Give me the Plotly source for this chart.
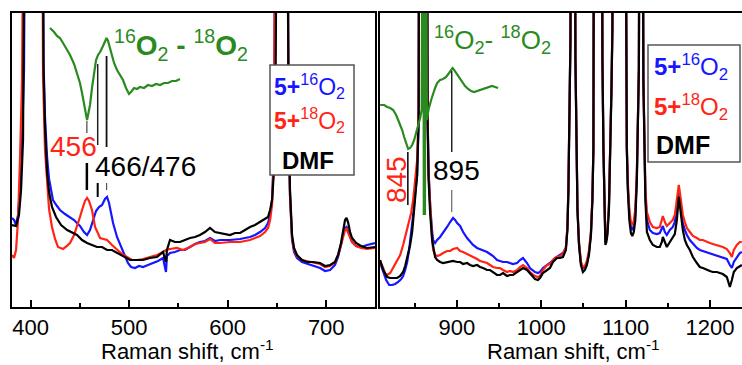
import plotly.graph_objects as go

# ---------------- LEFT PANEL (380-750 cm-1) ----------------
lx_blue = [381.0, 383.1, 385.1, 387.1, 389.1, 391.2, 393.2, 395.2, 403.4, 411.5, 413.0, 414.5, 416.6, 418.6, 420.6,
           422.6, 426.7, 429.7, 434.8, 439.9, 444.0, 447.0, 450.0, 454.1, 457.2, 460.2, 463.3, 466.3, 469.3, 472.4,
           475.4, 477.5, 479.5, 481.5, 483.6, 487.6, 491.7, 495.7, 498.7, 501.8, 505.9, 509.9, 514.0, 519.1, 524.1,
           529.2, 534.3, 537.3, 538.3, 541.4, 546.4, 551.5, 556.6, 561.7, 566.8, 571.8, 576.9, 582.0, 587.1, 592.2,
           602.3, 612.5, 622.6, 627.7, 632.8, 637.9, 640.9, 643.0, 645.0, 647.0, 648.0, 649.0, 655.2, 660.2, 661.7,
           663.2, 665.3, 667.3, 670.3, 675.4, 683.5, 693.7, 698.8, 703.9, 708.9, 712.0, 715.0, 717.1, 719.1, 720.6,
           722.1, 724.2, 726.2, 730.3, 735.3, 741.4, 749.5]
l_blue = [89, 87, 82, 92, 117, 167, 237, 500, 2000, 600, 245, 190, 150, 128, 115,
          107, 101, 97, 93, 90, 87, 84, 81, 75, 72, 77, 87, 96, 100, 102,
          108, 110, 104, 95, 84, 70, 60, 51, 44, 40, 39, 41, 40, 42, 44,
          46, 49, 35, 51, 54, 55, 57, 57, 60, 63, 65, 66, 69, 66, 67,
          67, 68, 70, 72, 75, 79, 84, 92, 107, 157, 227, 500, 2000, 500, 202,
          112, 67, 55, 49, 45, 42, 39, 36, 37, 42, 50, 62, 73, 79, 80,
          76, 70, 65, 61, 60, 62, 64]

lx_red = [381.0, 383.1, 385.1, 387.1, 389.1, 391.2, 393.2, 403.4, 411.0, 412.5, 414.5, 416.6, 418.6, 421.6, 424.7,
          427.7, 432.8, 436.8, 439.9, 444.0, 447.0, 450.0, 452.1, 455.1, 457.2, 459.2, 462.2, 465.3, 470.4, 477.5,
          482.5, 487.6, 492.7, 497.8, 502.8, 507.9, 514.0, 521.1, 528.2, 534.3, 537.3, 541.4, 548.5, 554.6, 561.7,
          566.8, 571.8, 576.9, 582.0, 587.1, 592.2, 602.3, 612.5, 622.6, 627.7, 632.8, 637.9, 640.9, 643.0, 645.0,
          647.0, 648.0, 649.0, 655.2, 660.2, 661.7, 663.2, 665.3, 667.3, 670.3, 675.4, 683.5, 693.7, 698.8, 703.9,
          708.9, 712.0, 715.0, 717.1, 719.1, 720.6, 722.1, 724.2, 726.2, 730.3, 735.3, 741.4, 749.5]
l_red = [52, 49, 57, 87, 147, 227, 500, 2000, 600, 230, 157, 120, 98, 80, 68,
         60, 58, 61, 64, 72, 80, 90, 97, 106, 109, 106, 97, 80, 69, 67,
         62, 57, 53, 50, 47, 47, 48, 50, 52, 55, 57, 58, 59, 57, 60,
         63, 64, 65, 68, 64, 64, 65, 65, 67, 69, 71, 75, 79, 87, 102,
         157, 227, 500, 2000, 500, 197, 112, 69, 57, 51, 47, 45, 43, 40, 41,
         45, 52, 62, 71, 77, 78, 74, 69, 65, 61, 59, 58, 59]

lx_black = [381.0, 385.1, 388.1, 390.2, 392.2, 394.2, 396.2, 403.4, 411.5, 413.0, 414.5, 416.6, 418.6, 421.6, 425.7,
            430.8, 437.0, 444.0, 447.0, 452.1, 457.2, 462.2, 467.3, 472.4, 477.5, 482.5, 487.6, 493.7, 500.8, 507.9,
            514.0, 521.1, 528.2, 534.3, 537.3, 538.3, 541.4, 546.4, 551.5, 556.6, 561.7, 566.8, 571.8, 576.9, 582.0,
            587.1, 592.2, 597.3, 602.3, 607.4, 612.5, 617.6, 622.6, 627.7, 632.8, 637.9, 640.9, 643.0, 645.0, 647.0,
            648.5, 650.1, 655.2, 660.2, 661.7, 663.2, 665.3, 667.3, 670.3, 675.4, 680.5, 686.6, 693.7, 698.8, 703.9,
            708.9, 712.0, 715.0, 717.1, 719.1, 720.6, 722.1, 724.2, 726.2, 730.3, 735.3, 741.4, 749.5]
l_black = [82, 81, 92, 117, 167, 247, 500, 2000, 600, 240, 180, 135, 115, 100, 90,
           82, 77, 73, 72, 67, 64, 62, 60, 60, 57, 57, 54, 51, 47, 47,
           47, 49, 50, 55, 45, 57, 67, 65, 65, 67, 69, 70, 72, 75, 79,
           75, 74, 73, 72, 74, 74, 77, 80, 82, 85, 88, 90, 97, 107, 137,
           207, 500, 2000, 500, 207, 117, 72, 59, 52, 47, 45, 45, 44, 41, 42,
           45, 52, 64, 75, 87, 89, 85, 75, 69, 64, 61, 59, 60]

lx_diff = [419.6, 423.7, 426.7, 429.7, 432.8, 435.8, 439.9, 444.0, 447.0, 450.0, 452.1, 454.1, 456.1, 457.2, 458.2,
           460.2, 462.2, 464.3, 466.3, 468.3, 470.4, 473.4, 475.4, 477.0, 478.5, 480.5, 482.5, 484.6, 487.6, 490.7,
           493.7, 496.7, 499.8, 501.8, 504.9, 507.9, 510.9, 515.0, 519.1, 523.1, 527.2, 531.3, 535.3, 539.4, 543.4,
           547.5, 551.5]
l_diff = [279, 275, 271, 269, 264, 259, 252, 243, 234, 224, 214, 202, 189, 187, 192,
          202, 219, 235, 247, 252, 255, 261, 266, 269, 266, 259, 251, 244, 237, 232,
          227, 219, 213, 215, 219, 218, 220, 219, 222, 221, 223, 222, 224, 224, 226,
          226, 228]

# ---------------- RIGHT PANEL (809-1238 cm-1) ----------------
rx_blue = [809.2, 812.8, 816.3, 819.9, 823.4, 827.0, 830.5, 834.1, 836.4, 838.8, 841.2, 843.5, 845.9, 848.3, 850.7,
           853.0, 854.8, 856.0, 857.2, 860.7, 864.3, 865.4, 866.6, 868.4, 870.8, 872.0, 874.3, 876.7, 880.2, 883.8,
           888.5, 892.1, 894.4, 895.6, 898.0, 900.4, 903.9, 907.5, 912.2, 915.7, 919.3, 924.0, 927.6, 931.1, 935.9,
           939.4, 943.0, 947.7, 951.2, 954.8, 959.5, 963.1, 966.6, 971.4, 974.9, 978.5, 983.2, 986.7, 990.3, 992.7,
           996.2, 998.6, 1002.1, 1006.9, 1010.4, 1016.3, 1022.2, 1025.8, 1029.3, 1031.1, 1032.3, 1033.5, 1034.7, 1035.8, 1037.6,
           1039.4, 1040.6, 1041.8, 1043.0, 1044.8, 1047.1, 1049.5, 1051.8, 1054.2, 1056.6, 1059.0, 1060.7, 1061.9, 1063.1, 1064.3,
           1065.5, 1068.4, 1071.4, 1072.6, 1073.8, 1074.9, 1076.1, 1077.3, 1078.5, 1080.3, 1082.1, 1083.3, 1084.4, 1085.6, 1092.1,
           1099.2, 1100.4, 1101.5, 1102.7, 1104.5, 1106.3, 1108.0, 1109.8, 1111.6, 1113.4, 1114.6, 1115.8, 1117.0, 1118.2, 1119.9,
           1121.1, 1122.3, 1123.5, 1125.3, 1128.8, 1132.4, 1137.1, 1140.6, 1143.0, 1144.2, 1146.6, 1148.9, 1152.5, 1156.0, 1158.4,
           1160.8, 1162.0, 1163.1, 1164.3, 1166.7, 1167.9, 1170.3, 1172.7, 1176.2, 1179.8, 1184.5, 1188.0, 1191.6, 1196.3, 1199.9,
           1203.4, 1208.2, 1211.7, 1215.3, 1220.0, 1223.6, 1226.0, 1228.3, 1231.9, 1235.4, 1237.8]
r_blue = [44, 35, 27, 22, 22, 23, 25, 28, 31, 37, 45, 57, 72, 92, 114,
          132, 187, 257, 600, 3000, 600, 192, 137, 102, 75, 67, 64, 67, 70, 74,
          80, 85, 88, 89, 87, 84, 81, 75, 69, 65, 62, 59, 58, 57, 55,
          53, 51, 47, 46, 45, 45, 44, 43, 44, 47, 49, 44, 39, 36, 35,
          34, 35, 39, 42, 44, 49, 52, 54, 59, 79, 119, 189, 268, 600, 3000,
          600, 248, 158, 98, 64, 44, 39, 40, 44, 54, 74, 108, 158, 218, 278,
          600, 3000, 600, 248, 158, 90, 65, 68, 75, 100, 158, 218, 278, 600, 3000,
          600, 228, 160, 121, 92, 80, 77, 81, 93, 131, 180, 238, 600, 3000, 600,
          230, 165, 112, 87, 77, 74, 73, 74, 79, 81, 75, 72, 77, 80, 85,
          102, 112, 115, 109, 92, 84, 77, 72, 67, 63, 59, 57, 56, 55, 54,
          53, 52, 51, 50, 48, 42, 39, 45, 50, 54, 55]

rx_red = [809.2, 812.8, 815.2, 817.5, 821.1, 824.6, 829.3, 832.9, 836.4, 838.8, 842.4, 845.9, 848.3, 850.7, 853.0,
          854.8, 856.0, 857.2, 860.7, 864.3, 865.4, 866.6, 868.4, 870.8, 872.0, 874.3, 876.7, 880.2, 883.8, 888.5,
          892.1, 895.6, 900.4, 903.9, 907.5, 912.2, 915.7, 919.3, 924.0, 927.6, 931.1, 935.9, 939.4, 943.0, 947.7,
          951.2, 954.8, 959.5, 963.1, 966.6, 971.4, 974.9, 978.5, 983.2, 986.7, 990.3, 992.7, 996.2, 998.6, 1002.1,
          1006.9, 1010.4, 1016.3, 1022.2, 1025.8, 1029.3, 1031.1, 1032.3, 1033.5, 1034.7, 1035.8, 1037.6, 1039.4, 1040.6, 1041.8,
          1043.0, 1044.8, 1047.1, 1049.5, 1051.8, 1054.2, 1056.6, 1059.0, 1060.7, 1061.9, 1063.1, 1064.3, 1065.5, 1068.4, 1071.4,
          1072.6, 1073.8, 1074.9, 1076.1, 1077.3, 1078.5, 1080.3, 1082.1, 1083.3, 1084.4, 1085.6, 1092.1, 1099.2, 1100.4, 1101.5,
          1102.7, 1104.5, 1106.3, 1108.0, 1109.8, 1111.6, 1113.4, 1114.6, 1115.8, 1117.0, 1118.2, 1119.9, 1121.1, 1122.3, 1123.5,
          1125.3, 1128.8, 1132.4, 1137.1, 1140.6, 1143.0, 1144.2, 1146.6, 1148.9, 1152.5, 1156.0, 1158.4, 1160.8, 1162.0, 1163.1,
          1164.3, 1166.7, 1167.9, 1170.3, 1172.7, 1176.2, 1179.8, 1184.5, 1188.0, 1191.6, 1196.3, 1199.9, 1203.4, 1208.2, 1211.7,
          1215.3, 1220.0, 1223.6, 1226.0, 1228.3, 1231.9, 1235.4, 1237.8]
r_red = [45, 39, 33, 32, 34, 39, 47, 52, 62, 70, 82, 94, 107, 127, 147,
         197, 262, 600, 3000, 600, 192, 132, 97, 67, 57, 52, 51, 52, 54, 56,
         56, 58, 59, 56, 55, 53, 52, 50, 48, 46, 45, 44, 42, 40, 39,
         39, 37, 35, 36, 35, 37, 40, 42, 39, 35, 32, 31, 30, 31, 37,
         42, 43, 49, 51, 53, 60, 80, 120, 190, 270, 600, 3000, 600, 250, 160,
         100, 66, 45, 40, 41, 46, 56, 76, 110, 160, 220, 280, 600, 3000, 600,
         250, 160, 92, 67, 70, 77, 102, 160, 220, 280, 600, 3000, 600, 230, 162,
         125, 97, 85, 82, 86, 98, 135, 182, 240, 600, 3000, 600, 232, 170, 117,
         95, 85, 80, 79, 80, 87, 91, 85, 81, 84, 87, 92, 107, 117, 122,
         115, 99, 92, 85, 79, 75, 71, 69, 67, 67, 65, 64, 63, 62, 61,
         60, 58, 54, 50, 57, 62, 65, 65]

rx_black = [809.2, 812.8, 817.5, 821.1, 824.6, 829.3, 832.9, 836.4, 838.8, 841.2, 842.4, 844.7, 847.1, 848.9, 850.7,
            853.0, 854.8, 856.0, 857.2, 860.7, 864.3, 865.4, 866.6, 868.4, 870.8, 874.3, 876.7, 880.2, 883.8, 888.5,
            892.1, 895.6, 900.4, 903.9, 907.5, 912.2, 915.7, 919.3, 924.0, 927.6, 931.1, 935.9, 939.4, 943.0, 947.7,
            951.2, 954.8, 959.5, 963.1, 966.6, 971.4, 974.9, 978.5, 983.2, 986.7, 990.3, 992.7, 996.2, 998.6, 1002.1,
            1006.9, 1010.4, 1014.0, 1018.7, 1022.2, 1025.8, 1029.3, 1031.1, 1032.3, 1033.5, 1034.7, 1035.8, 1037.6, 1039.4, 1040.6,
            1041.8, 1043.0, 1044.8, 1047.1, 1049.5, 1051.8, 1054.2, 1056.6, 1059.0, 1060.7, 1061.9, 1063.1, 1064.3, 1065.5, 1068.4,
            1071.4, 1072.6, 1073.8, 1074.9, 1076.1, 1077.3, 1078.5, 1080.3, 1082.1, 1083.3, 1084.4, 1085.6, 1092.1, 1099.2, 1100.4,
            1101.5, 1102.7, 1104.5, 1106.3, 1108.0, 1109.8, 1111.6, 1113.4, 1114.6, 1115.8, 1117.0, 1118.2, 1119.9, 1121.1, 1122.3,
            1123.5, 1125.3, 1128.8, 1132.4, 1137.1, 1140.6, 1143.0, 1144.2, 1146.6, 1148.9, 1152.5, 1156.0, 1158.4, 1160.8, 1162.0,
            1163.1, 1164.3, 1166.7, 1167.9, 1170.3, 1172.7, 1176.2, 1179.8, 1184.5, 1188.0, 1191.6, 1196.3, 1199.9, 1203.4, 1208.2,
            1211.7, 1215.3, 1220.0, 1223.6, 1226.0, 1228.3, 1231.9, 1235.4, 1237.8]
r_black = [47, 37, 30, 29, 29, 29, 31, 35, 41, 49, 53, 62, 75, 95, 114,
           132, 187, 257, 600, 3000, 600, 187, 127, 94, 67, 50, 47, 45, 44, 45,
           45, 46, 45, 45, 43, 44, 42, 41, 42, 40, 39, 37, 37, 35, 32,
           32, 34, 31, 32, 32, 35, 37, 39, 37, 34, 30, 28, 27, 29, 34,
           37, 39, 45, 49, 49, 50, 57, 77, 117, 187, 267, 600, 3000, 600, 247,
           157, 97, 62, 42, 35, 37, 42, 52, 72, 107, 157, 217, 277, 600, 3000,
           600, 247, 157, 87, 62, 65, 72, 97, 157, 217, 277, 600, 3000, 600, 227,
           157, 117, 87, 74, 71, 75, 87, 127, 177, 237, 600, 3000, 600, 227, 157,
           107, 75, 67, 62, 60, 60, 65, 70, 64, 60, 65, 70, 73, 87, 102,
           110, 102, 85, 77, 67, 62, 57, 50, 44, 40, 39, 37, 36, 35, 35,
           34, 33, 30, 20, 27, 35, 39, 41, 42]

rx_diff = [809.2, 814.0, 817.5, 821.1, 824.6, 828.1, 830.5, 832.9, 835.3, 837.6, 840.0, 842.4, 844.7, 847.1, 849.5,
           851.8, 854.2, 856.6, 858.4, 860.2, 860.9, 861.6, 862.3, 863.0, 864.6, 866.4, 869.6, 872.0, 874.3, 876.7,
           880.2, 883.8, 887.3, 890.9, 893.2, 895.0, 896.8, 899.2, 902.8, 906.3, 909.8, 913.4, 916.9, 920.5, 924.0,
           927.6, 931.1, 934.7, 938.2, 941.8, 945.4, 948.9]
r_diff = [202, 202, 200, 199, 197, 192, 187, 182, 177, 170, 163, 158, 159, 162, 167,
          174, 183, 189, 197, 600, 92, 600, 92, 600, 187, 197, 207, 214, 219, 224,
          227, 228, 230, 234, 237, 239, 237, 234, 229, 225, 221, 218, 216, 215, 216,
          217, 218, 219, 220, 221, 220, 219]

# band markers (cm-1) and their labels
left_bands = [457, 468, 477]
right_bands = [842, 894]
x_ticks_left = [400, 500, 600, 700]
x_ticks_right = [900, 1000, 1100, 1200]

BLUE = "#1616ff"
RED = "#ff2414"
BLACK = "#000000"
GREEN = "#2b8a1f"
FONT = "Liberation Sans, Arial, sans-serif"

fig = go.Figure()


def add(x, y, color, xa, ya):
    fig.add_trace(go.Scatter(x=x, y=y, mode="lines", line=dict(color=color, width=2.2),
                             xaxis=xa, yaxis=ya, showlegend=False, hoverinfo="skip"))


add(lx_blue, l_blue, BLUE, "x", "y")
add(lx_red, l_red, RED, "x", "y")
add(lx_black, l_black, BLACK, "x", "y")
add(lx_diff, l_diff, GREEN, "x", "y")
add(rx_blue, r_blue, BLUE, "x2", "y2")
add(rx_red, r_red, RED, "x2", "y2")
add(rx_black, r_black, BLACK, "x2", "y2")
add(rx_diff, r_diff, GREEN, "x2", "y2")

W, H = 742, 365
ydom = [(H - 307) / H, (H - 13) / H]

axis_common = dict(showline=True, linecolor="black", linewidth=2, mirror=True,
                   ticks="inside", ticklen=7, tickwidth=1.5, tickcolor="black",
                   showgrid=False, zeroline=False,
                   tickfont=dict(family=FONT, size=22, color="black"),
                   minor=dict(ticks="inside", ticklen=4, tickwidth=1.5, tickcolor="black", dtick=50, tick0=0,
                              showgrid=False))
yaxis_common = dict(showline=True, linecolor="black", linewidth=2, showticklabels=False,
                    ticks="", showgrid=False, zeroline=False, range=[0, 294], domain=ydom)

fig.update_layout(
    width=W, height=H, margin=dict(l=0, r=0, t=0, b=0),
    template="none", paper_bgcolor="white", plot_bgcolor="white",
    xaxis=dict(domain=[12 / W, 375 / W], range=[381, 749.5], anchor="y",
               tickvals=x_ticks_left, **axis_common),
    yaxis=dict(anchor="x", mirror=True, **yaxis_common),
    xaxis2=dict(domain=[380 / W, 1.0], range=[809, 1238], anchor="y2",
                tickvals=x_ticks_right, **axis_common),
    yaxis2=dict(anchor="x2", mirror=False, **yaxis_common),
)

# marker lines
def vline(xa, ya, x, y0, y1, color="black", width=1.5):
    fig.add_shape(type="line", xref=xa, yref=ya, x0=x, x1=x, y0=y0, y1=y1,
                  line=dict(color=color, width=width))


vline("x", "y", left_bands[0], 174, 186, "#444444", 1.2)
vline("x", "y", left_bands[0], 117, 144, "black", 2.5)
vline("x", "y", left_bands[1], 162, 243, "#222222", 1.5)
vline("x", "y", left_bands[1], 110, 124, "black", 2)
vline("x", "y", left_bands[2], 160, 251, "#111111", 1.8)
vline("x", "y", left_bands[2], 117, 124, "#555555", 1.2)
vline("x2", "y2", right_bands[0], 102, 155, "black", 1.5)
vline("x2", "y2", right_bands[1], 155, 236, "#222222", 1.5)
vline("x2", "y2", right_bands[1], 95, 117, "#666666", 1.2)

# text labels
def label(xa, ya, x, y, text, color, size=28, angle=0):
    fig.add_annotation(xref=xa, yref=ya, x=x, y=y, text=text, showarrow=False, textangle=angle,
                       font=dict(family=FONT, size=size, color=color), xanchor="center", yanchor="middle")


label("x", "y", 443, 161, "456", RED)
label("x", "y", 517, 141, "466/476", BLACK)
label("x", "y", 553, 262, "<sup>16</sup><b>O</b><sub>2</sub><b> - </b><sup>18</sup><b>O</b><sub>2</sub>", GREEN, 28)
label("x2", "y2", 828, 127, "845", RED, 28, -90)
label("x2", "y2", 900, 137, "895", BLACK)
label("x2", "y2", 942, 267, "<sup>16</sup>O<sub>2</sub>- <sup>18</sup>O<sub>2</sub>", GREEN, 26)

# legend boxes
def px_box(x0, y0, x1, y1):
    fig.add_shape(type="rect", xref="paper", yref="paper",
                  x0=x0 / W, x1=x1 / W, y0=(H - y1) / H, y1=(H - y0) / H,
                  line=dict(color="#555555", width=1.5), fillcolor="white", layer="above")


def px_text(x, y, text, color, size=24, anchor="left"):
    fig.add_annotation(xref="paper", yref="paper", x=x / W, y=(H - y) / H, text=text, showarrow=False,
                       font=dict(family=FONT, size=size, color=color), xanchor=anchor, yanchor="middle")


leg_blue = "<b>5+</b><sup>16</sup>O<sub>2</sub>"
leg_red = "<b>5+</b><sup>18</sup>O<sub>2</sub>"
leg_dmf = "<b>DMF</b>"

px_box(270, 65, 354, 175)
px_text(272, 86, leg_blue, BLUE, 23)
px_text(272, 120, leg_red, RED, 23)
px_text(308, 160, leg_dmf, BLACK, 24, "center")

px_box(648, 45, 740, 162)
px_text(652, 67, leg_blue, BLUE, 24)
px_text(652, 107, leg_red, RED, 24)
px_text(654, 145, leg_dmf, BLACK, 25)

# axis titles
px_text(187, 350, "Raman shift, cm<sup>-1</sup>", BLACK, 22, "center")
px_text(573, 350, "Raman shift, cm<sup>-1</sup>", BLACK, 22, "center")

fig.write_html("out.html")
